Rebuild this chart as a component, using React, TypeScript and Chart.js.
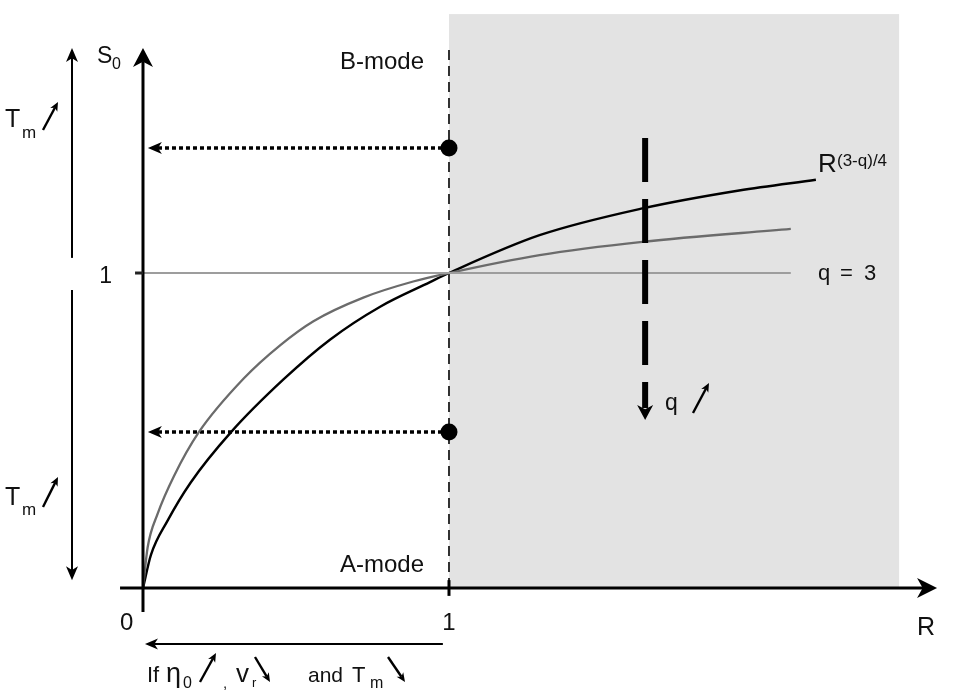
import React, { useEffect, useRef } from "react";
import { Chart, registerables } from "chart.js";

Chart.register(...registerables);

// ---- data ----
const R_BLACK = [0, 0.026, 0.08, 0.156, 0.287, 0.459, 0.612, 0.775, 0.938, 1, 1.296, 1.632, 1.948, 2.199];
const S_BLACK = [0, 0.105, 0.213, 0.335, 0.494, 0.662, 0.789, 0.893, 0.971, 1, 1.12, 1.205, 1.262, 1.296];
const R_GRAY = [0, 0.015, 0.048, 0.101, 0.182, 0.329, 0.45, 0.557, 0.72, 0.883, 1, 1.296, 1.632, 2.117];
const S_GRAY = [0, 0.128, 0.236, 0.355, 0.494, 0.665, 0.772, 0.847, 0.922, 0.973, 1, 1.057, 1.099, 1.14];
const R_FLAT = [0, 2.117];
const S_FLAT = [1, 1];
const MODE_R = [1, 1];
const MODE_S = [1.397, 0.495];
const X_TICKS = ["0", "1"];
const Y_TICKS = ["1"];

const X_MIN = -0.4673;
const X_MAX = 2.6569;
const Y_MIN = -0.3333;
const Y_MAX = 1.8667;

const FONT = '"Liberation Sans", Arial, Helvetica, sans-serif';

function zip(xs: number[], ys: number[]) {
  return xs.map((x, i) => ({ x, y: ys[i] }));
}

function head(ctx: CanvasRenderingContext2D, tx: number, ty: number, ang: number, L: number, W: number, color: string) {
  const dx = Math.cos(ang), dy = Math.sin(ang);
  const nx = -dy, ny = dx;
  ctx.save();
  ctx.setLineDash([]);
  ctx.beginPath();
  ctx.moveTo(tx, ty);
  ctx.lineTo(tx - L * dx + W * nx, ty - L * dy + W * ny);
  ctx.lineTo(tx - 0.72 * L * dx, ty - 0.72 * L * dy);
  ctx.lineTo(tx - L * dx - W * nx, ty - L * dy - W * ny);
  ctx.closePath();
  ctx.fillStyle = color;
  ctx.fill();
  ctx.restore();
}

function arrow(
  ctx: CanvasRenderingContext2D,
  x1: number, y1: number, x2: number, y2: number,
  lw: number, L: number, W: number, color = "#000", dash: number[] = []
) {
  const ang = Math.atan2(y2 - y1, x2 - x1);
  const ex = x2 - 0.7 * L * Math.cos(ang);
  const ey = y2 - 0.7 * L * Math.sin(ang);
  ctx.save();
  ctx.strokeStyle = color;
  ctx.lineWidth = lw;
  ctx.setLineDash(dash);
  ctx.lineCap = "butt";
  ctx.beginPath();
  ctx.moveTo(x1, y1);
  ctx.lineTo(ex, ey);
  ctx.stroke();
  ctx.restore();
  head(ctx, x2, y2, ang, L, W, color);
}

function line(ctx: CanvasRenderingContext2D, x1: number, y1: number, x2: number, y2: number, lw: number, color = "#000", dash: number[] = []) {
  ctx.save();
  ctx.strokeStyle = color;
  ctx.lineWidth = lw;
  ctx.setLineDash(dash);
  ctx.beginPath();
  ctx.moveTo(x1, y1);
  ctx.lineTo(x2, y2);
  ctx.stroke();
  ctx.restore();
}

function txt(ctx: CanvasRenderingContext2D, s: string, x: number, y: number, size: number, align: CanvasTextAlign = "left", color = "#111") {
  ctx.save();
  ctx.font = `${size}px ${FONT}`;
  ctx.fillStyle = color;
  ctx.textAlign = align;
  ctx.textBaseline = "alphabetic";
  ctx.fillText(s, x, y);
  ctx.restore();
}

const diagramPlugin = {
  id: "diagram",
  beforeDatasetsDraw(chart: any) {
    const { ctx, scales } = chart;
    const X = (v: number) => scales.x.getPixelForValue(v);
    const Y = (v: number) => scales.y.getPixelForValue(v);
    // shaded region
    ctx.save();
    ctx.fillStyle = "#e3e3e3";
    ctx.fillRect(X(1), Y(1.822), X(2.471) - X(1), Y(0) - Y(1.822));
    ctx.restore();
    // dashed vertical at R = 1
    line(ctx, X(1), Y(0), X(1), Y(1.717), 1.7, "#111", [10, 6]);
    // dotted arrows from mode points to S axis
    MODE_S.forEach((s, i) => {
      arrow(ctx, X(MODE_R[i]), Y(s), X(0.016), Y(s), 3.5, 14, 6, "#000", [4, 3]);
    });
  },
  afterDatasetsDraw(chart: any) {
    const { ctx, scales } = chart;
    const X = (v: number) => scales.x.getPixelForValue(v);
    const Y = (v: number) => scales.y.getPixelForValue(v);

    // axes
    arrow(ctx, X(-0.075), Y(0), X(2.595), Y(0), 3, 20, 10);
    arrow(ctx, X(0), Y(-0.076), X(0), Y(1.714), 3, 19, 10);
    // ticks
    line(ctx, X(1), Y(-0.025), X(1), Y(0.025), 3);
    line(ctx, X(-0.026), Y(1), X(0), Y(1), 3, "#222");

    // thick dashed arrow (q increases)
    const qx = X(1.641);
    ctx.save();
    ctx.strokeStyle = "#000";
    ctx.lineWidth = 6;
    ctx.setLineDash([44, 17]);
    ctx.beginPath();
    ctx.moveTo(qx, Y(1.429));
    ctx.lineTo(qx, Y(0.533) - 12);
    ctx.stroke();
    ctx.restore();
    head(ctx, qx, Y(0.533), Math.PI / 2, 15, 8, "#000");

    // left arrows (Tm)
    arrow(ctx, X(-0.232), Y(1.048), X(-0.232), Y(1.714), 2, 14, 6);
    arrow(ctx, X(-0.232), Y(0.946), X(-0.232), Y(0.025), 2, 14, 6);
    // bottom arrow
    arrow(ctx, X(0.98), Y(-0.178), X(0.0065), Y(-0.178), 2, 13, 5.5);

    // tick labels
    txt(ctx, X_TICKS[0], X(0) - 23, Y(0) + 42, 24, "left");
    txt(ctx, X_TICKS[1], X(1), Y(0) + 42, 24, "center");
    txt(ctx, Y_TICKS[0], X(0) - 31, Y(1) + 10, 23, "right");
    txt(ctx, "R", 917, 635, 25);

    // axis name S0
    txt(ctx, "S", 97, 63, 23);
    txt(ctx, "0", 112, 69, 16);

    // modes
    txt(ctx, "B-mode", 340, 69, 24);
    txt(ctx, "A-mode", 340, 572, 24);

    // curve labels
    txt(ctx, "R", 818, 172, 26);
    txt(ctx, "(3-q)/4", 837, 166, 17);
    txt(ctx, "q", 818, 280, 22);
    txt(ctx, "=", 840, 280, 22);
    txt(ctx, "3", 864, 280, 22);

    // q arrow label
    txt(ctx, "q", 665, 410, 23);
    arrow(ctx, 693, 413, 709, 383, 2.4, 9, 4);

    // Tm labels
    txt(ctx, "T", 5, 127, 25);
    txt(ctx, "m", 22, 138, 17);
    arrow(ctx, 43, 130, 58, 102, 2.4, 9, 4);
    txt(ctx, "T", 5, 505, 25);
    txt(ctx, "m", 22, 515, 17);
    arrow(ctx, 43, 507, 58, 477, 2.4, 9, 4);

    // bottom condition text
    txt(ctx, "If", 147, 682, 22);
    txt(ctx, "\u03B7", 166, 682, 27);
    txt(ctx, "0", 183, 688, 16);
    arrow(ctx, 200, 682, 216, 653, 2.4, 9, 4);
    txt(ctx, ",", 223, 688, 15);
    txt(ctx, "v", 236, 682, 26);
    txt(ctx, "r", 252, 687, 13);
    arrow(ctx, 255, 657, 270, 682, 2.4, 9, 4);
    txt(ctx, "and", 308, 682, 21);
    txt(ctx, "T", 352, 682, 22);
    txt(ctx, "m", 370, 688, 16);
    arrow(ctx, 388, 657, 405, 682, 2.4, 9, 4);
  },
};

export default function App() {
  const ref = useRef<HTMLCanvasElement | null>(null);
  useEffect(() => {
    if (!ref.current) return;
    const chart = new Chart(ref.current, {
      type: "scatter",
      data: {
        datasets: [
          {
            label: "q = 3",
            data: zip(R_FLAT, S_FLAT),
            showLine: true,
            borderColor: "#9d9d9d",
            borderWidth: 2.2,
            pointRadius: 0,
          },
          {
            label: "gray",
            data: zip(R_GRAY, S_GRAY),
            showLine: true,
            borderColor: "#6b6b6b",
            borderWidth: 2.3,
            pointRadius: 0,
            cubicInterpolationMode: "monotone",
          },
          {
            label: "R^(3-q)/4",
            data: zip(R_BLACK, S_BLACK),
            showLine: true,
            borderColor: "#000",
            borderWidth: 2.4,
            pointRadius: 0,
            cubicInterpolationMode: "monotone",
          },
          {
            label: "modes",
            data: zip(MODE_R, MODE_S),
            showLine: false,
            pointRadius: 8.5,
            pointBackgroundColor: "#000",
            pointBorderWidth: 0,
          },
        ],
      },
      options: {
        animation: false,
        responsive: false,
        maintainAspectRatio: false,
        layout: { padding: 0, autoPadding: false },
        plugins: { legend: { display: false }, tooltip: { enabled: false }, title: { display: false } },
        scales: {
          x: { type: "linear", min: X_MIN, max: X_MAX, display: false },
          y: { type: "linear", min: Y_MIN, max: Y_MAX, display: false },
        },
        events: [],
      },
      plugins: [diagramPlugin],
    } as any);
    return () => chart.destroy();
  }, []);
  return (
    <div style={{ position: "fixed", left: 0, top: 0, width: 956, height: 693, background: "#fff" }}>
      <canvas ref={ref} width={956} height={693} style={{ width: 956, height: 693 }} />
    </div>
  );
}
